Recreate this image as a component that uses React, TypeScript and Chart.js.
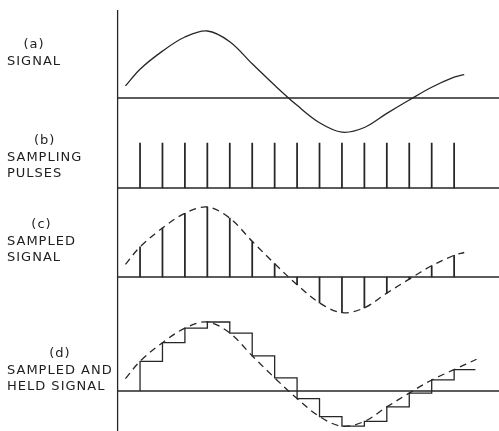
import React, { useEffect, useRef } from "react";
import { Chart, registerables } from "chart.js";

Chart.register(...registerables);

// ---- data (time measured in sampling intervals, amplitude normalised to the peak) ----
const sampleTimes = [1, 2, 3, 4, 5, 6, 7, 8, 9, 10, 11, 12, 13, 14, 15];
const sampleValues = [0.43, 0.7, 0.91, 1.0, 0.84, 0.51, 0.19, -0.11, -0.37, -0.51, -0.44, -0.23, -0.03, 0.16, 0.31];
const pulseHeights = [1, 1, 1, 1, 1, 1, 1, 1, 1, 1, 1, 1, 1, 1, 1];
const curveStart = [0.35, 0.18];
const curveEnd = [15.45, 0.35];
const heldCurveEnd = [16.0, 0.46];
const holdEndTime = 15.95;
const timeRange = [0, 17];

const panelLabels = [
  ["(a)", "SIGNAL"],
  ["(b)", "SAMPLING", "PULSES"],
  ["(c)", "SAMPLED", "SIGNAL"],
  ["(d)", "SAMPLED AND", "HELD SIGNAL"],
];

// ---- layout ----
const W = 499;
const H = 431;
const AREA_LEFT = 117.6;
const AREA_TOP = 10;
const panels = [
  { id: "ya", base: 98, unit: 67, labelTop: 36 },
  { id: "yb", base: 188, unit: 45, labelTop: 132 },
  { id: "yc", base: 277, unit: 70, labelTop: 216 },
  { id: "yd", base: 391, unit: 69, labelTop: 345 },
];
const INK = "#262626";
const LW = 1.3;

const axisLinePlugin = {
  id: "axisLine",
  afterDatasetsDraw(chart: any) {
    const { ctx, chartArea } = chart;
    ctx.save();
    ctx.strokeStyle = INK;
    ctx.lineWidth = LW;
    ctx.beginPath();
    ctx.moveTo(chartArea.left, chartArea.top);
    ctx.lineTo(chartArea.left, chartArea.bottom);
    ctx.stroke();
    ctx.restore();
  },
};

export default function App() {
  const ref = useRef<HTMLCanvasElement | null>(null);

  useEffect(() => {
    if (!ref.current) return;

    const curve = (end: number[]) => [
      { x: curveStart[0], y: curveStart[1] },
      ...sampleTimes.map((t, i) => ({ x: t, y: sampleValues[i] })),
      { x: end[0], y: end[1] },
    ];
    const baseline = () => [
      { x: timeRange[0], y: 0 },
      { x: timeRange[1], y: 0 },
    ];
    const held = [
      { x: sampleTimes[0], y: 0 },
      ...sampleTimes.map((t, i) => ({ x: t, y: sampleValues[i] })),
      { x: holdEndTime, y: sampleValues[sampleValues.length - 1] },
    ];

    const lineBase = {
      type: "line" as const,
      borderColor: INK,
      borderWidth: LW,
      pointRadius: 0,
      fill: false,
    };
    const barBase = {
      type: "bar" as const,
      backgroundColor: INK,
      borderWidth: 0,
      barThickness: 1.1,
      grouped: false,
    };

    const scales: any = {
      x: { type: "linear", min: timeRange[0], max: timeRange[1], display: false, offset: false },
    };
    panels.forEach((p) => {
      scales[p.id] = {
        type: "linear",
        display: false,
        min: -(H - p.base) / p.unit,
        max: (p.base - AREA_TOP) / p.unit,
      };
    });

    const chart = new Chart(ref.current, {
      type: "line",
      data: {
        datasets: [
          ...panels.map((p) => ({ ...lineBase, data: baseline(), yAxisID: p.id })),
          // (a) signal
          { ...lineBase, data: curve(curveEnd), yAxisID: "ya", tension: 0.35 },
          // (b) sampling pulses
          { ...barBase, data: sampleTimes.map((t, i) => ({ x: t, y: pulseHeights[i] })), yAxisID: "yb" },
          // (c) sampled signal
          { ...barBase, data: sampleTimes.map((t, i) => ({ x: t, y: sampleValues[i] })), yAxisID: "yc" },
          { ...lineBase, data: curve(curveEnd), yAxisID: "yc", tension: 0.35, borderDash: [7, 5] },
          // (d) sampled and held
          { ...lineBase, data: held, yAxisID: "yd", stepped: "before" },
          { ...lineBase, data: curve(heldCurveEnd), yAxisID: "yd", tension: 0.35, borderDash: [7, 5] },
        ] as any,
      },
      options: {
        responsive: false,
        animation: false,
        layout: { padding: { left: AREA_LEFT, right: 0, top: AREA_TOP, bottom: 0 } },
        scales,
        plugins: { legend: { display: false }, tooltip: { enabled: false } },
        events: [],
      },
      plugins: [axisLinePlugin],
    });

    return () => chart.destroy();
  }, []);

  return (
    <div style={{ position: "fixed", left: 0, top: 0, width: W, height: H, background: "#fff" }}>
      <canvas ref={ref} width={W} height={H} style={{ position: "absolute", left: 0, top: 0 }} />
      {panelLabels.map((lines, k) => (
        <div
          key={k}
          style={{
            position: "absolute",
            left: 7,
            top: panels[k].labelTop,
            display: "inline-block",
            fontFamily: "'DejaVu Sans', sans-serif",
            fontSize: 13,
            letterSpacing: 1,
            lineHeight: "16.5px",
            color: "#1e1e1e",
            whiteSpace: "nowrap",
          }}
        >
          <div style={{ textAlign: "center" }}>{lines[0]}</div>
          {lines.slice(1).map((l, j) => (
            <div key={j}>{l}</div>
          ))}
        </div>
      ))}
    </div>
  );
}
